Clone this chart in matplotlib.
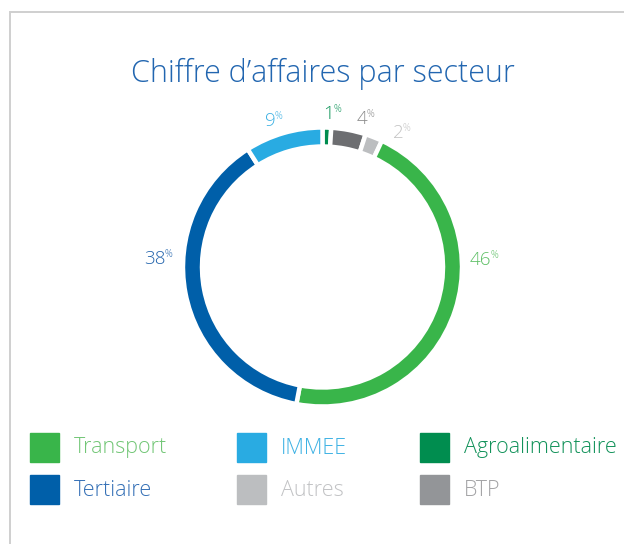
"""Donut chart: chiffre d'affaires par secteur."""

import matplotlib.pyplot as plt
import numpy as np

plt.rcParams["font.family"] = ["Open Sans", "DejaVu Sans"]

# data (clockwise from the top)
SECTORS = ["Agroalimentaire", "BTP", "Autres", "Transport", "Tertiaire", "IMMEE"]
SHARES = [1, 4, 2, 46, 38, 9]
SLICE_COLORS = ["#008d4f", "#6d6e71", "#bcbec0", "#39b54a", "#005fa9", "#29abe2"]
LABEL_COLORS = ["#10955a", "#8a8a8a", "#c4c4c4", "#5cbf64", "#2465ad", "#3bb0e3"]

# legend, row by row
LEGEND_NAMES = ["Transport", "IMMEE", "Agroalimentaire", "Tertiaire", "Autres", "BTP"]
LEGEND_SWATCH = ["#39b54a", "#29abe2", "#008d4f", "#005fa9", "#bcbec0", "#939598"]
LEGEND_TEXT = ["#72c676", "#3fb2e4", "#12925a", "#3570b6", "#c2c3c5", "#a3a3a5"]

TITLE = "Chiffre d\u2019affaires par secteur"

W, H = 624, 544
CX, CY = 322.5, H - 267
R_OUT, RING = 139.5, 19
LABEL_ANGLES = [87.6, 75.0, 60.5, 2.4, 177.4, 109.6]
LABEL_RADII = [153, 153, 154, 158, 168, 155]


def main():
    fig = plt.figure(figsize=(W / 100, H / 100), dpi=100)
    ax = fig.add_axes([0, 0, 1, 1])

    ax.pie(SHARES, colors=SLICE_COLORS, startangle=90, counterclock=False,
           radius=R_OUT, center=(CX, CY),
           wedgeprops={"width": RING, "edgecolor": "white", "linewidth": 3.2})
    ax.set_xlim(0, W)
    ax.set_ylim(0, H)
    ax.set_aspect("auto")
    ax.axis("off")

    # frame lines
    ax.plot([10, 10, W], [0, H - 12, H - 12], color="#cfcfcf", lw=1.4,
            solid_joinstyle="miter")

    ax.text(CX, H - 74, TITLE, ha="center", va="center", fontsize=22,
            fontweight="light", color="#2266b0")

    numbers = []
    for share, ang, rad, col in zip(SHARES, LABEL_ANGLES, LABEL_RADII, LABEL_COLORS):
        x = CX + rad * np.cos(np.radians(ang))
        y = CY + rad * np.sin(np.radians(ang))
        t = ax.text(x, y, str(share), ha="center", va="center", fontsize=13.5,
                    fontweight="light", color=col)
        numbers.append((t, col))

    fig.canvas.draw()
    renderer = fig.canvas.get_renderer()
    for t, col in numbers:
        bb = t.get_window_extent(renderer)
        ax.text(bb.x1 - 1, bb.y1 + 1, "%", ha="left", va="top", fontsize=7,
                fontweight="light", color=col)

    col_x = [30, 237, 420]
    row_y = [H - 447, H - 489]
    size = 29
    for i, (name, sw, tc) in enumerate(zip(LEGEND_NAMES, LEGEND_SWATCH, LEGEND_TEXT)):
        x0 = col_x[i % 3]
        y0 = row_y[i // 3]
        ax.add_patch(plt.Rectangle((x0, y0 - size / 2), size, size, color=sw))
        ax.text(x0 + 44, y0 - 1, name, ha="left", va="center", fontsize=15.5,
                fontweight="light", color=tc)

    fig.savefig("out.png", dpi=100)


if __name__ == "__main__":
    main()
